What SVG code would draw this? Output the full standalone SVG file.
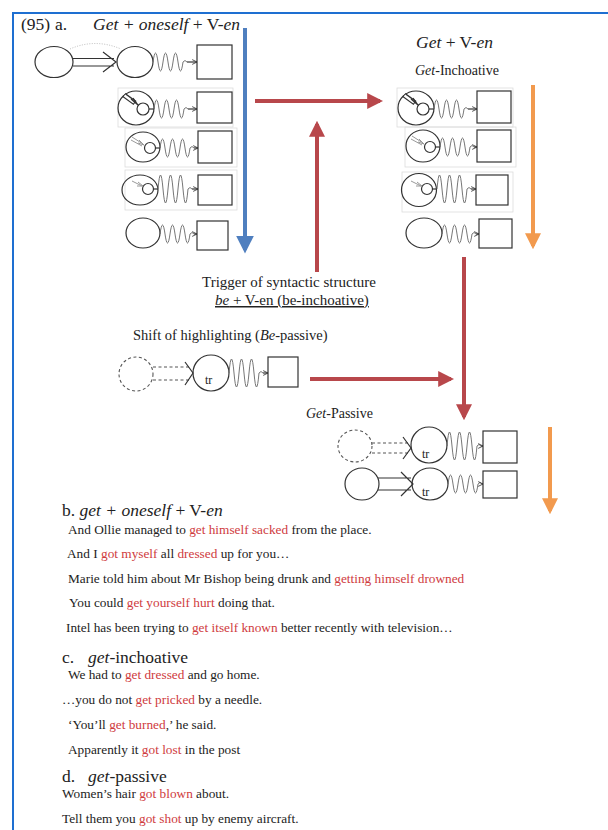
<svg xmlns="http://www.w3.org/2000/svg" xmlns:xlink="http://www.w3.org/1999/xlink" width="608" height="830" viewBox="0 0 608 830">
  <style>
    text { font-family: "Liberation Serif", "Times New Roman", serif; fill: #222; }
    .it { font-style: italic; }
    .red { fill: #cf3b40; }
    .ex { font-size: 13.3px; }
    .hd { font-size: 17.5px; }
    .ln { fill: none; stroke: #333; stroke-width: 1.2; }
    .dsh { fill: none; stroke: #555; stroke-width: 1.1; stroke-dasharray: 3 2.5; }
    .spr { fill: none; stroke: #666; stroke-width: 0.9; }
    .frm { fill: none; stroke: #dcdcdc; stroke-width: 0.8; }
    .box { fill: #fff; stroke: #333; stroke-width: 1.2; }
    .gry { fill: none; stroke: #999; stroke-width: 1; }
    .big { fill: none; stroke-width: 4; }
  </style>
  <defs>
    <marker id="tip" viewBox="0 0 10 10" refX="9" refY="5" markerWidth="6" markerHeight="6" orient="auto" markerUnits="userSpaceOnUse">
      <path d="M1,1 L9,5 L1,9" fill="none" stroke="#333" stroke-width="1.4"/>
    </marker>
    <marker id="hRed" viewBox="0 0 10 10" refX="8" refY="5" markerWidth="4" markerHeight="4" orient="auto">
      <path d="M0,0 L10,5 L0,10 z" fill="#b8474b"/>
    </marker>
    <marker id="hBlue" viewBox="0 0 10 10" refX="8" refY="5" markerWidth="4.5" markerHeight="4.5" orient="auto">
      <path d="M0,0 L10,5 L0,10 z" fill="#4f7fbf"/>
    </marker>
    <marker id="hOrange" viewBox="0 0 10 10" refX="8" refY="5" markerWidth="4" markerHeight="4" orient="auto">
      <path d="M0,0 L10,5 L0,10 z" fill="#f29a4e"/>
    </marker>
    <!-- wavy force line, 30px long -->
    <path id="spr" class="spr" d="M0,0 q2.5,-18 5,0 t5,0 t5,0 t5,0 t5,0 t5,0 q2,-3 4,0"/>
    <path id="sprTall" class="spr" d="M0,0 q2.5,-28 5,0 t5,0 t5,0 t5,0 t5,0 t5,0 q2,-3 4,0"/>
  </defs>

  <rect width="608" height="830" fill="#fff"/>
  <!-- frame -->
  <path d="M13,830 V13 H608" fill="none" stroke="#1e6fd1" stroke-width="2"/>

  <!-- heading -->
  <text class="hd" x="21" y="30">(95)</text>
  <text class="hd" x="55" y="30">a.</text>
  <text class="hd" x="93" y="30"><tspan class="it">Get + oneself</tspan> + V-<tspan class="it">en</tspan></text>

  <text class="hd" x="416" y="48"><tspan class="it">Get</tspan> + V-<tspan class="it">en</tspan></text>
  <text x="415" y="75" font-size="14"><tspan class="it">Get</tspan>-Inchoative</text>

  <!-- left column -->
  <g id="a-row0">
    <ellipse class="ln" cx="54" cy="62" rx="19" ry="15.5"/>
    <ellipse class="ln" cx="135" cy="62" rx="18" ry="15.5"/>
    <path d="M70,49 Q95,38 121,49" fill="none" stroke="#aaa" stroke-width="0.8" stroke-dasharray="1 1.5"/>
    <path class="ln" d="M73,58.5 H114 M73,66 H114 M103,52 L116,62 L103,72"/>
    <use xlink:href="#spr" x="153" y="62"/>
    <line class="ln" x1="187" y1="62" x2="197" y2="62" marker-end="url(#tip)"/>
    <rect class="box" x="197" y="45" width="35" height="34"/>
  </g>
  <g id="a-row1">
    <rect class="frm" x="118" y="88" width="115" height="39"/>
    <ellipse class="ln" cx="136" cy="108" rx="18" ry="17"/>
    <circle class="ln" cx="143" cy="109" r="6"/>
    <line class="ln" x1="149" y1="109" x2="154" y2="109"/>
    <path d="M124,95 L135,103" fill="none" stroke="#333" stroke-width="5"/>
    <path d="M124.5,95.5 L134,102.5" fill="none" stroke="#fff" stroke-width="2.4"/>
    <path class="ln" d="M131,99 L138,105 L133,98"/>
    <use xlink:href="#spr" x="154" y="109"/>
    <line class="ln" x1="188" y1="109" x2="197" y2="109" marker-end="url(#tip)"/>
    <rect class="box" x="197" y="92" width="35" height="31"/>
  </g>
  <g id="a-row2">
    <rect class="frm" x="125" y="128" width="112" height="39"/>
    <ellipse class="ln" cx="143" cy="147" rx="17" ry="15"/>
    <circle class="ln" cx="150" cy="148" r="5.5"/>
    <line class="ln" x1="155.5" y1="148" x2="160" y2="148"/>
    <path class="gry" d="M132,137 L143,144 M131,140 L142,146 M139,140 L144,145 L138,143"/>
    <use xlink:href="#spr" x="160" y="148"/>
    <line class="ln" x1="194" y1="148" x2="198" y2="148" marker-end="url(#tip)"/>
    <rect class="box" x="198" y="131" width="34" height="32"/>
  </g>
  <g id="a-row3">
    <rect class="frm" x="125" y="170" width="112" height="40"/>
    <ellipse class="ln" cx="140" cy="190" rx="18" ry="15"/>
    <circle class="ln" cx="148" cy="189" r="5.5"/>
    <line class="ln" x1="153.5" y1="189" x2="158" y2="189"/>
    <path class="gry" d="M132,181 L142,186 M138,182 L143,186 L137,186"/>
    <use xlink:href="#sprTall" x="158" y="189"/>
    <line class="ln" x1="192" y1="189" x2="198" y2="189" marker-end="url(#tip)"/>
    <rect class="box" x="198" y="175" width="34" height="30"/>
  </g>
  <g id="a-row4">
    <ellipse class="ln" cx="143" cy="233" rx="17" ry="15"/>
    <use xlink:href="#spr" x="160" y="234"/>
    <line class="ln" x1="194" y1="234" x2="197" y2="234" marker-end="url(#tip)"/>
    <rect class="box" x="197" y="221" width="31" height="29"/>
  </g>

  <!-- right column: get-inchoative -->
  <g id="b-row1">
    <rect class="frm" x="397" y="88" width="116" height="39"/>
    <ellipse class="ln" cx="416" cy="108" rx="18" ry="17"/>
    <circle class="ln" cx="423" cy="109" r="6"/>
    <line class="ln" x1="429" y1="109" x2="434" y2="109"/>
    <path d="M404,95 L415,103" fill="none" stroke="#333" stroke-width="5"/>
    <path d="M404.5,95.5 L414,102.5" fill="none" stroke="#fff" stroke-width="2.4"/>
    <path class="ln" d="M411,99 L418,105 L413,98"/>
    <use xlink:href="#spr" x="434" y="109"/>
    <line class="ln" x1="468" y1="109" x2="477" y2="109" marker-end="url(#tip)"/>
    <rect class="box" x="477" y="91" width="34" height="32"/>
  </g>
  <g id="b-row2">
    <rect class="frm" x="405" y="127" width="111" height="40"/>
    <ellipse class="ln" cx="423" cy="146" rx="17" ry="16"/>
    <circle class="ln" cx="430" cy="147" r="5.5"/>
    <line class="ln" x1="435.5" y1="147" x2="440" y2="147"/>
    <path class="gry" d="M412,136 L423,143 M411,139 L422,145 M419,139 L424,144 L418,142"/>
    <use xlink:href="#spr" x="440" y="147"/>
    <line class="ln" x1="474" y1="147" x2="477" y2="147" marker-end="url(#tip)"/>
    <rect class="box" x="477" y="130" width="34" height="32"/>
  </g>
  <g id="b-row3">
    <rect class="frm" x="402" y="172" width="111" height="40"/>
    <ellipse class="ln" cx="419" cy="190" rx="17.5" ry="16.5"/>
    <circle class="ln" cx="427" cy="189" r="5.5"/>
    <line class="ln" x1="432.5" y1="189" x2="437" y2="189"/>
    <path class="gry" d="M411,181 L421,186 M417,182 L422,186 L416,186"/>
    <use xlink:href="#sprTall" x="437" y="189"/>
    <line class="ln" x1="471" y1="189" x2="476" y2="189" marker-end="url(#tip)"/>
    <rect class="box" x="476" y="175" width="32" height="30"/>
  </g>
  <g id="b-row4">
    <ellipse class="ln" cx="424" cy="233" rx="18" ry="15"/>
    <use xlink:href="#spr" x="442" y="234"/>
    <line class="ln" x1="476" y1="234" x2="479" y2="234" marker-end="url(#tip)"/>
    <rect class="box" x="479" y="219" width="33" height="29"/>
  </g>

  <!-- trigger label -->
  <g id="trigger">
    <text x="202" y="287" font-size="15">Trigger of syntactic structure</text>
    <text x="215" y="305" font-size="15" text-decoration="underline"><tspan class="it">be</tspan> + V-en (be-inchoative)</text>
  </g>

  <!-- be-passive -->
  <g id="be-passive">
    <text x="133" y="340" font-size="14.5">Shift of highlighting (<tspan class="it">Be</tspan>-passive)</text>
    <ellipse class="dsh" cx="136" cy="374" rx="17" ry="17"/>
    <path class="dsh" d="M153,367 H190 M153,380 H190"/>
    <path class="ln" d="M185,362 L193,373 L185,385" stroke-width="0.9"/>
    <ellipse class="ln" cx="211" cy="373" rx="18" ry="18"/>
    <text x="205" y="384" font-size="12">tr</text>
    <use xlink:href="#sprTall" x="229" y="373"/>
    <line class="ln" x1="263" y1="373" x2="268" y2="373" marker-end="url(#tip)"/>
    <rect class="box" x="268" y="357" width="30" height="30"/>
  </g>

  <!-- get-passive -->
  <text x="306" y="418" font-size="14"><tspan class="it">Get</tspan>-Passive</text>
  <g id="c-row1">
    <ellipse class="dsh" cx="355" cy="446" rx="17" ry="16"/>
    <path class="dsh" d="M372,443 H408 M372,453 H408"/>
    <path class="ln" d="M403,437 L411,448 L403,459" stroke-width="0.9"/>
    <ellipse class="ln" cx="429" cy="445" rx="18" ry="18"/>
    <text x="422" y="458" font-size="12">tr</text>
    <use xlink:href="#sprTall" x="447" y="446"/>
    <line class="ln" x1="481" y1="446" x2="483" y2="446" marker-end="url(#tip)"/>
    <rect class="box" x="483" y="431" width="34" height="32"/>
  </g>
  <g id="c-row2">
    <ellipse class="ln" cx="362" cy="484" rx="17" ry="16"/>
    <path class="ln" d="M378,478 H411 M378,490 H411 M401,472 L413,484 L401,496"/>
    <ellipse class="ln" cx="430" cy="484" rx="18" ry="16"/>
    <text x="422" y="496" font-size="12">tr</text>
    <use xlink:href="#spr" x="448" y="484"/>
    <line class="ln" x1="482" y1="484" x2="483" y2="484" marker-end="url(#tip)"/>
    <rect class="box" x="483" y="471" width="34" height="27"/>
  </g>

  <!-- connectors -->
  <g id="connectors">
    <line class="big" stroke="#4f7fbf" stroke-width="2.5" x1="245" y1="28" x2="245" y2="250" marker-end="url(#hBlue)"/>
    <line class="big" stroke="#f29a4e" x1="533" y1="85" x2="533" y2="246" marker-end="url(#hOrange)"/>
    <line class="big" stroke="#b8474b" x1="255" y1="101" x2="380" y2="101" marker-end="url(#hRed)"/>
    <line class="big" stroke="#b8474b" x1="317" y1="272" x2="317" y2="124" marker-end="url(#hRed)"/>
    <line class="big" stroke="#b8474b" x1="464" y1="257" x2="464" y2="417" marker-end="url(#hRed)"/>
    <line class="big" stroke="#b8474b" x1="310" y1="379" x2="451" y2="379" marker-end="url(#hRed)"/>
    <line class="big" stroke="#f29a4e" x1="550" y1="427" x2="550" y2="511" marker-end="url(#hOrange)"/>
  </g>

  <!-- examples -->
  <g id="examples-b">
    <text class="hd" x="62" y="516">b. <tspan class="it">get + oneself</tspan> + V-<tspan class="it">en</tspan></text>
    <text class="ex" x="68" y="534">And Ollie managed to <tspan class="red">get himself sacked</tspan> from the place.</text>
    <text class="ex" x="67" y="558">And I <tspan class="red">got myself</tspan> all <tspan class="red">dressed</tspan> up for you…</text>
    <text class="ex" x="68" y="583">Marie told him about Mr Bishop being drunk and <tspan class="red">getting himself drowned</tspan></text>
    <text class="ex" x="69" y="607">You could <tspan class="red">get yourself hurt</tspan> doing that.</text>
    <text class="ex" x="66" y="632">Intel has been trying to <tspan class="red">get itself known</tspan> better recently with television…</text>
  </g>
  <g id="examples-c">
    <text class="hd" x="62" y="663">c.</text>
    <text class="hd" x="88" y="663"><tspan class="it">get</tspan>-inchoative</text>
    <text class="ex" x="68" y="679">We had to <tspan class="red">get dressed</tspan> and go home.</text>
    <text class="ex" x="62" y="704">…you do not <tspan class="red">get pricked</tspan> by a needle.</text>
    <text class="ex" x="68" y="729">‘You’ll <tspan class="red">get burned</tspan>,’ he said.</text>
    <text class="ex" x="68" y="754">Apparently it <tspan class="red">got lost</tspan> in the post</text>
  </g>
  <g id="examples-d">
    <text class="hd" x="62" y="782">d.</text>
    <text class="hd" x="88" y="782"><tspan class="it">get</tspan>-passive</text>
    <text class="ex" x="62" y="798">Women’s hair <tspan class="red">got blown</tspan> about.</text>
    <text class="ex" x="62" y="823">Tell them you <tspan class="red">got shot</tspan> up by enemy aircraft.</text>
  </g>
</svg>
